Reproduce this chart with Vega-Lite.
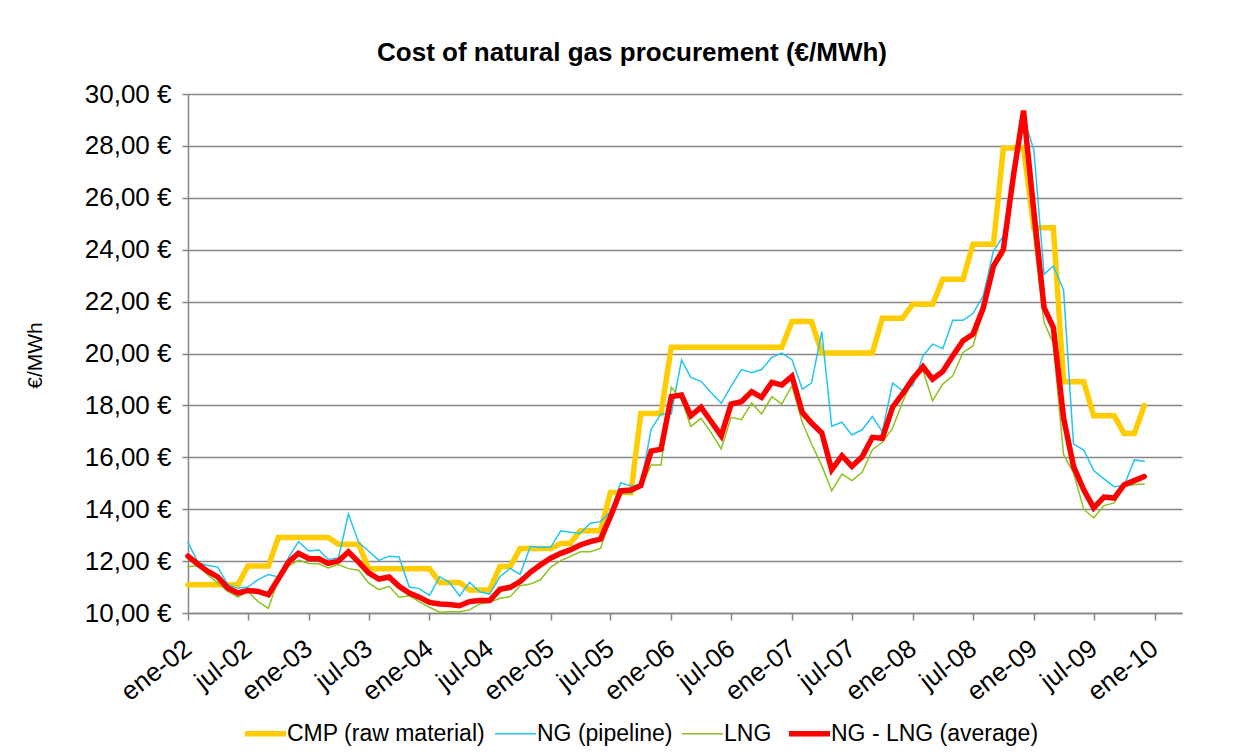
{
  "$schema": "https://vega.github.io/schema/vega-lite/v6.json",
  "width": 994,
  "height": 519,
  "autosize": {"type": "none"},
  "padding": {"left": 188, "top": 94, "right": 61, "bottom": 143},
  "background": "white",
  "title": {
    "text": "Cost of natural gas procurement (€/MWh)",
    "fontSize": 26,
    "fontWeight": "bold",
    "font": "Liberation Sans",
    "color": "black",
    "anchor": "middle",
    "frame": "group",
    "dx": -53,
    "offset": -11,
    "baseline": "bottom"
  },
  "data": {
    "values": [
      {"m": "2002-01-01", "CMP (raw material)": 11.09, "NG (pipeline)": 12.71, "LNG": 11.78, "NG - LNG (average)": 12.19},
      {"m": "2002-02-01", "CMP (raw material)": 11.09, "NG (pipeline)": 11.94, "LNG": 11.83, "NG - LNG (average)": 11.87},
      {"m": "2002-03-01", "CMP (raw material)": 11.09, "NG (pipeline)": 11.83, "LNG": 11.48, "NG - LNG (average)": 11.61},
      {"m": "2002-04-01", "CMP (raw material)": 11.09, "NG (pipeline)": 11.77, "LNG": 11.16, "NG - LNG (average)": 11.39},
      {"m": "2002-05-01", "CMP (raw material)": 11.09, "NG (pipeline)": 11.10, "LNG": 10.83, "NG - LNG (average)": 10.96},
      {"m": "2002-06-01", "CMP (raw material)": 11.09, "NG (pipeline)": 10.95, "LNG": 10.61, "NG - LNG (average)": 10.77},
      {"m": "2002-07-01", "CMP (raw material)": 11.81, "NG (pipeline)": 11.00, "LNG": 10.83, "NG - LNG (average)": 10.87},
      {"m": "2002-08-01", "CMP (raw material)": 11.81, "NG (pipeline)": 11.29, "LNG": 10.44, "NG - LNG (average)": 10.83},
      {"m": "2002-09-01", "CMP (raw material)": 11.81, "NG (pipeline)": 11.48, "LNG": 10.18, "NG - LNG (average)": 10.70},
      {"m": "2002-10-01", "CMP (raw material)": 12.91, "NG (pipeline)": 11.39, "LNG": 11.29, "NG - LNG (average)": 11.31},
      {"m": "2002-11-01", "CMP (raw material)": 12.91, "NG (pipeline)": 12.13, "LNG": 11.81, "NG - LNG (average)": 11.96},
      {"m": "2002-12-01", "CMP (raw material)": 12.91, "NG (pipeline)": 12.75, "LNG": 12.04, "NG - LNG (average)": 12.30},
      {"m": "2003-01-01", "CMP (raw material)": 12.91, "NG (pipeline)": 12.39, "LNG": 11.91, "NG - LNG (average)": 12.10},
      {"m": "2003-02-01", "CMP (raw material)": 12.91, "NG (pipeline)": 12.43, "LNG": 11.90, "NG - LNG (average)": 12.09},
      {"m": "2003-03-01", "CMP (raw material)": 12.91, "NG (pipeline)": 12.06, "LNG": 11.74, "NG - LNG (average)": 11.91},
      {"m": "2003-04-01", "CMP (raw material)": 12.65, "NG (pipeline)": 12.13, "LNG": 11.87, "NG - LNG (average)": 12.00},
      {"m": "2003-05-01", "CMP (raw material)": 12.65, "NG (pipeline)": 13.82, "LNG": 11.71, "NG - LNG (average)": 12.36},
      {"m": "2003-06-01", "CMP (raw material)": 12.65, "NG (pipeline)": 12.71, "LNG": 11.65, "NG - LNG (average)": 11.96},
      {"m": "2003-07-01", "CMP (raw material)": 11.71, "NG (pipeline)": 12.39, "LNG": 11.16, "NG - LNG (average)": 11.55},
      {"m": "2003-08-01", "CMP (raw material)": 11.71, "NG (pipeline)": 12.03, "LNG": 10.90, "NG - LNG (average)": 11.31},
      {"m": "2003-09-01", "CMP (raw material)": 11.71, "NG (pipeline)": 12.19, "LNG": 11.03, "NG - LNG (average)": 11.39},
      {"m": "2003-10-01", "CMP (raw material)": 11.71, "NG (pipeline)": 12.16, "LNG": 10.61, "NG - LNG (average)": 11.03},
      {"m": "2003-11-01", "CMP (raw material)": 11.71, "NG (pipeline)": 11.00, "LNG": 10.66, "NG - LNG (average)": 10.77},
      {"m": "2003-12-01", "CMP (raw material)": 11.71, "NG (pipeline)": 10.94, "LNG": 10.44, "NG - LNG (average)": 10.61},
      {"m": "2004-01-01", "CMP (raw material)": 11.71, "NG (pipeline)": 10.68, "LNG": 10.22, "NG - LNG (average)": 10.41},
      {"m": "2004-02-01", "CMP (raw material)": 11.18, "NG (pipeline)": 11.40, "LNG": 10.03, "NG - LNG (average)": 10.35},
      {"m": "2004-03-01", "CMP (raw material)": 11.18, "NG (pipeline)": 11.18, "LNG": 10.05, "NG - LNG (average)": 10.33},
      {"m": "2004-04-01", "CMP (raw material)": 11.18, "NG (pipeline)": 10.66, "LNG": 10.05, "NG - LNG (average)": 10.28},
      {"m": "2004-05-01", "CMP (raw material)": 10.89, "NG (pipeline)": 11.18, "LNG": 10.12, "NG - LNG (average)": 10.44},
      {"m": "2004-06-01", "CMP (raw material)": 10.89, "NG (pipeline)": 10.82, "LNG": 10.35, "NG - LNG (average)": 10.48},
      {"m": "2004-07-01", "CMP (raw material)": 10.89, "NG (pipeline)": 10.73, "LNG": 10.41, "NG - LNG (average)": 10.48},
      {"m": "2004-08-01", "CMP (raw material)": 11.79, "NG (pipeline)": 11.40, "LNG": 10.57, "NG - LNG (average)": 10.91},
      {"m": "2004-09-01", "CMP (raw material)": 11.79, "NG (pipeline)": 11.72, "LNG": 10.63, "NG - LNG (average)": 10.99},
      {"m": "2004-10-01", "CMP (raw material)": 12.49, "NG (pipeline)": 11.49, "LNG": 11.05, "NG - LNG (average)": 11.21},
      {"m": "2004-11-01", "CMP (raw material)": 12.49, "NG (pipeline)": 12.56, "LNG": 11.12, "NG - LNG (average)": 11.57},
      {"m": "2004-12-01", "CMP (raw material)": 12.49, "NG (pipeline)": 12.53, "LNG": 11.27, "NG - LNG (average)": 11.85},
      {"m": "2005-01-01", "CMP (raw material)": 12.49, "NG (pipeline)": 12.53, "LNG": 11.76, "NG - LNG (average)": 12.11},
      {"m": "2005-02-01", "CMP (raw material)": 12.68, "NG (pipeline)": 13.17, "LNG": 12.02, "NG - LNG (average)": 12.30},
      {"m": "2005-03-01", "CMP (raw material)": 12.68, "NG (pipeline)": 13.11, "LNG": 12.17, "NG - LNG (average)": 12.43},
      {"m": "2005-04-01", "CMP (raw material)": 13.17, "NG (pipeline)": 13.07, "LNG": 12.36, "NG - LNG (average)": 12.62},
      {"m": "2005-05-01", "CMP (raw material)": 13.17, "NG (pipeline)": 13.46, "LNG": 12.36, "NG - LNG (average)": 12.75},
      {"m": "2005-06-01", "CMP (raw material)": 13.17, "NG (pipeline)": 13.52, "LNG": 12.49, "NG - LNG (average)": 12.85},
      {"m": "2005-07-01", "CMP (raw material)": 14.64, "NG (pipeline)": 13.90, "LNG": 13.60, "NG - LNG (average)": 13.71},
      {"m": "2005-08-01", "CMP (raw material)": 14.64, "NG (pipeline)": 15.02, "LNG": 14.59, "NG - LNG (average)": 14.71},
      {"m": "2005-09-01", "CMP (raw material)": 14.64, "NG (pipeline)": 14.89, "LNG": 14.61, "NG - LNG (average)": 14.74},
      {"m": "2005-10-01", "CMP (raw material)": 17.69, "NG (pipeline)": 14.93, "LNG": 14.87, "NG - LNG (average)": 14.91},
      {"m": "2005-11-01", "CMP (raw material)": 17.69, "NG (pipeline)": 17.08, "LNG": 15.70, "NG - LNG (average)": 16.24},
      {"m": "2005-12-01", "CMP (raw material)": 17.69, "NG (pipeline)": 17.67, "LNG": 15.70, "NG - LNG (average)": 16.31},
      {"m": "2006-01-01", "CMP (raw material)": 20.24, "NG (pipeline)": 17.67, "LNG": 18.70, "NG - LNG (average)": 18.34},
      {"m": "2006-02-01", "CMP (raw material)": 20.24, "NG (pipeline)": 19.75, "LNG": 18.25, "NG - LNG (average)": 18.40},
      {"m": "2006-03-01", "CMP (raw material)": 20.24, "NG (pipeline)": 19.08, "LNG": 17.19, "NG - LNG (average)": 17.60},
      {"m": "2006-04-01", "CMP (raw material)": 20.24, "NG (pipeline)": 18.93, "LNG": 17.50, "NG - LNG (average)": 17.93},
      {"m": "2006-05-01", "CMP (raw material)": 20.24, "NG (pipeline)": 18.50, "LNG": 16.96, "NG - LNG (average)": 17.39},
      {"m": "2006-06-01", "CMP (raw material)": 20.24, "NG (pipeline)": 18.08, "LNG": 16.32, "NG - LNG (average)": 16.83},
      {"m": "2006-07-01", "CMP (raw material)": 20.24, "NG (pipeline)": 18.74, "LNG": 17.54, "NG - LNG (average)": 18.05},
      {"m": "2006-08-01", "CMP (raw material)": 20.24, "NG (pipeline)": 19.38, "LNG": 17.45, "NG - LNG (average)": 18.14},
      {"m": "2006-09-01", "CMP (raw material)": 20.24, "NG (pipeline)": 19.26, "LNG": 18.09, "NG - LNG (average)": 18.53},
      {"m": "2006-10-01", "CMP (raw material)": 20.24, "NG (pipeline)": 19.38, "LNG": 17.67, "NG - LNG (average)": 18.31},
      {"m": "2006-11-01", "CMP (raw material)": 20.24, "NG (pipeline)": 19.85, "LNG": 18.34, "NG - LNG (average)": 18.89},
      {"m": "2006-12-01", "CMP (raw material)": 20.24, "NG (pipeline)": 20.02, "LNG": 18.05, "NG - LNG (average)": 18.79},
      {"m": "2007-01-01", "CMP (raw material)": 21.23, "NG (pipeline)": 19.76, "LNG": 18.76, "NG - LNG (average)": 19.12},
      {"m": "2007-02-01", "CMP (raw material)": 21.23, "NG (pipeline)": 18.63, "LNG": 17.35, "NG - LNG (average)": 17.73},
      {"m": "2007-03-01", "CMP (raw material)": 21.23, "NG (pipeline)": 18.86, "LNG": 16.51, "NG - LNG (average)": 17.32},
      {"m": "2007-04-01", "CMP (raw material)": 20.02, "NG (pipeline)": 20.84, "LNG": 15.68, "NG - LNG (average)": 16.94},
      {"m": "2007-05-01", "CMP (raw material)": 20.02, "NG (pipeline)": 17.20, "LNG": 14.71, "NG - LNG (average)": 15.52},
      {"m": "2007-06-01", "CMP (raw material)": 20.02, "NG (pipeline)": 17.35, "LNG": 15.35, "NG - LNG (average)": 16.06},
      {"m": "2007-07-01", "CMP (raw material)": 20.02, "NG (pipeline)": 16.86, "LNG": 15.10, "NG - LNG (average)": 15.65},
      {"m": "2007-08-01", "CMP (raw material)": 20.02, "NG (pipeline)": 17.06, "LNG": 15.42, "NG - LNG (average)": 16.02},
      {"m": "2007-09-01", "CMP (raw material)": 20.02, "NG (pipeline)": 17.57, "LNG": 16.29, "NG - LNG (average)": 16.77},
      {"m": "2007-10-01", "CMP (raw material)": 21.36, "NG (pipeline)": 16.99, "LNG": 16.58, "NG - LNG (average)": 16.73},
      {"m": "2007-11-01", "CMP (raw material)": 21.36, "NG (pipeline)": 18.86, "LNG": 17.12, "NG - LNG (average)": 17.93},
      {"m": "2007-12-01", "CMP (raw material)": 21.36, "NG (pipeline)": 18.57, "LNG": 18.12, "NG - LNG (average)": 18.44},
      {"m": "2008-01-01", "CMP (raw material)": 21.90, "NG (pipeline)": 18.76, "LNG": 19.00, "NG - LNG (average)": 19.02},
      {"m": "2008-02-01", "CMP (raw material)": 21.90, "NG (pipeline)": 19.91, "LNG": 19.33, "NG - LNG (average)": 19.49},
      {"m": "2008-03-01", "CMP (raw material)": 21.90, "NG (pipeline)": 20.36, "LNG": 18.18, "NG - LNG (average)": 19.01},
      {"m": "2008-04-01", "CMP (raw material)": 22.86, "NG (pipeline)": 20.19, "LNG": 18.82, "NG - LNG (average)": 19.31},
      {"m": "2008-05-01", "CMP (raw material)": 22.86, "NG (pipeline)": 21.28, "LNG": 19.14, "NG - LNG (average)": 19.91},
      {"m": "2008-06-01", "CMP (raw material)": 22.86, "NG (pipeline)": 21.28, "LNG": 20.04, "NG - LNG (average)": 20.49},
      {"m": "2008-07-01", "CMP (raw material)": 24.21, "NG (pipeline)": 21.54, "LNG": 20.29, "NG - LNG (average)": 20.74},
      {"m": "2008-08-01", "CMP (raw material)": 24.21, "NG (pipeline)": 22.22, "LNG": 21.64, "NG - LNG (average)": 21.74},
      {"m": "2008-09-01", "CMP (raw material)": 24.21, "NG (pipeline)": 23.95, "LNG": 23.31, "NG - LNG (average)": 23.37},
      {"m": "2008-10-01", "CMP (raw material)": 27.92, "NG (pipeline)": 24.53, "LNG": 23.82, "NG - LNG (average)": 24.01},
      {"m": "2008-11-01", "CMP (raw material)": 27.92, "NG (pipeline)": 27.00, "LNG": 26.80, "NG - LNG (average)": 26.90},
      {"m": "2008-12-01", "CMP (raw material)": 27.92, "NG (pipeline)": 29.10, "LNG": 29.30, "NG - LNG (average)": 29.36},
      {"m": "2009-01-01", "CMP (raw material)": 24.85, "NG (pipeline)": 27.86, "LNG": 24.50, "NG - LNG (average)": 25.50},
      {"m": "2009-02-01", "CMP (raw material)": 24.85, "NG (pipeline)": 23.05, "LNG": 21.20, "NG - LNG (average)": 21.77},
      {"m": "2009-03-01", "CMP (raw material)": 24.85, "NG (pipeline)": 23.37, "LNG": 20.40, "NG - LNG (average)": 21.00},
      {"m": "2009-04-01", "CMP (raw material)": 18.91, "NG (pipeline)": 22.44, "LNG": 16.10, "NG - LNG (average)": 17.51},
      {"m": "2009-05-01", "CMP (raw material)": 18.91, "NG (pipeline)": 16.51, "LNG": 15.40, "NG - LNG (average)": 15.65},
      {"m": "2009-06-01", "CMP (raw material)": 18.91, "NG (pipeline)": 16.28, "LNG": 14.00, "NG - LNG (average)": 14.75},
      {"m": "2009-07-01", "CMP (raw material)": 17.60, "NG (pipeline)": 15.49, "LNG": 13.66, "NG - LNG (average)": 14.05},
      {"m": "2009-08-01", "CMP (raw material)": 17.60, "NG (pipeline)": 15.17, "LNG": 14.14, "NG - LNG (average)": 14.47},
      {"m": "2009-09-01", "CMP (raw material)": 17.60, "NG (pipeline)": 14.87, "LNG": 14.24, "NG - LNG (average)": 14.43},
      {"m": "2009-10-01", "CMP (raw material)": 16.92, "NG (pipeline)": 14.91, "LNG": 14.88, "NG - LNG (average)": 14.94},
      {"m": "2009-11-01", "CMP (raw material)": 16.92, "NG (pipeline)": 15.90, "LNG": 14.95, "NG - LNG (average)": 15.10},
      {"m": "2009-12-01", "CMP (raw material)": 17.99, "NG (pipeline)": 15.85, "LNG": 14.97, "NG - LNG (average)": 15.26}
    ]
  },
  "transform": [
    {"fold": ["CMP (raw material)", "NG (pipeline)", "LNG", "NG - LNG (average)"], "as": ["key", "value"]}
  ],
  "mark": {"type": "line", "strokeCap": "round", "strokeJoin": "miter", "clip": false},
  "encoding": {
    "x": {
      "field": "m",
      "type": "temporal",
      "scale": {
        "type": "utc",
        "nice": false,
        "domain": [
          {"year": 2002, "month": 1, "date": 1, "utc": true},
          {"year": 2010, "month": 3, "date": 25, "utc": true}
        ]
      },
      "axis": {
        "title": null,
        "grid": false,
        "values": [
          {"year": 2002, "month": 1, "date": 1, "utc": true},
          {"year": 2002, "month": 7, "date": 1, "utc": true},
          {"year": 2003, "month": 1, "date": 1, "utc": true},
          {"year": 2003, "month": 7, "date": 1, "utc": true},
          {"year": 2004, "month": 1, "date": 1, "utc": true},
          {"year": 2004, "month": 7, "date": 1, "utc": true},
          {"year": 2005, "month": 1, "date": 1, "utc": true},
          {"year": 2005, "month": 7, "date": 1, "utc": true},
          {"year": 2006, "month": 1, "date": 1, "utc": true},
          {"year": 2006, "month": 7, "date": 1, "utc": true},
          {"year": 2007, "month": 1, "date": 1, "utc": true},
          {"year": 2007, "month": 7, "date": 1, "utc": true},
          {"year": 2008, "month": 1, "date": 1, "utc": true},
          {"year": 2008, "month": 7, "date": 1, "utc": true},
          {"year": 2009, "month": 1, "date": 1, "utc": true},
          {"year": 2009, "month": 7, "date": 1, "utc": true},
          {"year": 2010, "month": 1, "date": 1, "utc": true}
        ],
        "labelExpr": "(utcFormat(datum.value, '%m') == '01' ? 'ene' : 'jul') + '-' + utcFormat(datum.value, '%y')",
        "labelAngle": -38,
        "labelAlign": "right",
        "labelBaseline": "middle",
        "labelPadding": 25,
        "labelFontSize": 26,
        "labelFont": "Liberation Sans",
        "labelColor": "black",
        "labelOverlap": false,
        "labelFlush": false,
        "domainColor": "#868686",
        "domainWidth": 1.5,
        "tickColor": "#868686",
        "tickWidth": 1.5,
        "tickSize": 7
      }
    },
    "y": {
      "field": "value",
      "type": "quantitative",
      "scale": {"domain": [10, 30], "nice": false, "zero": false},
      "axis": {
        "title": "€/MWh",
        "titleFont": "Liberation Sans",
        "titleFontSize": 21,
        "titleFontWeight": "normal",
        "titleColor": "black",
        "titleX": -153,
        "titleY": 261,
        "titleAngle": -90,
        "titleAlign": "center",
        "titleBaseline": "middle",
        "values": [10, 12, 14, 16, 18, 20, 22, 24, 26, 28, 30],
        "labelExpr": "replace(format(datum.value, '.2f'), '.', ',') + ' €'",
        "labelFontSize": 26,
        "labelFont": "Liberation Sans",
        "labelColor": "black",
        "labelPadding": 11,
        "domainColor": "#868686",
        "domainWidth": 1.5,
        "tickColor": "#868686",
        "tickWidth": 1.5,
        "tickSize": 6,
        "gridColor": "#868686",
        "gridWidth": 1.5
      }
    },
    "color": {
      "field": "key",
      "type": "nominal",
      "sort": ["CMP (raw material)", "NG (pipeline)", "LNG", "NG - LNG (average)"],
      "scale": {
        "domain": ["CMP (raw material)", "NG (pipeline)", "LNG", "NG - LNG (average)"],
        "range": ["#FFCC00", "#22C5F2", "#8DC21F", "#FF0000"]
      },
      "legend": {
        "title": null,
        "orient": "none",
        "legendX": 66,
        "legendY": 628,
        "direction": "horizontal",
        "symbolType": "stroke",
        "symbolSize": 1681,
        "symbolStrokeWidth": {"expr": "indexof(['LNG', 'NG (pipeline)'], datum.value) >= 0 ? 1.5 : 5.5"},
        "labelFont": "Liberation Sans",
        "labelFontSize": 23,
        "labelColor": "black",
        "labelLimit": 400,
        "labelOffset": 10,
        "columnPadding": 6
      }
    },
    "strokeWidth": {
      "condition": {"test": "datum.key === 'LNG' || datum.key === 'NG (pipeline)'", "value": 1.5},
      "value": 5.5
    }
  },
  "config": {
    "view": {"stroke": null},
    "font": "Liberation Sans"
  }
}
